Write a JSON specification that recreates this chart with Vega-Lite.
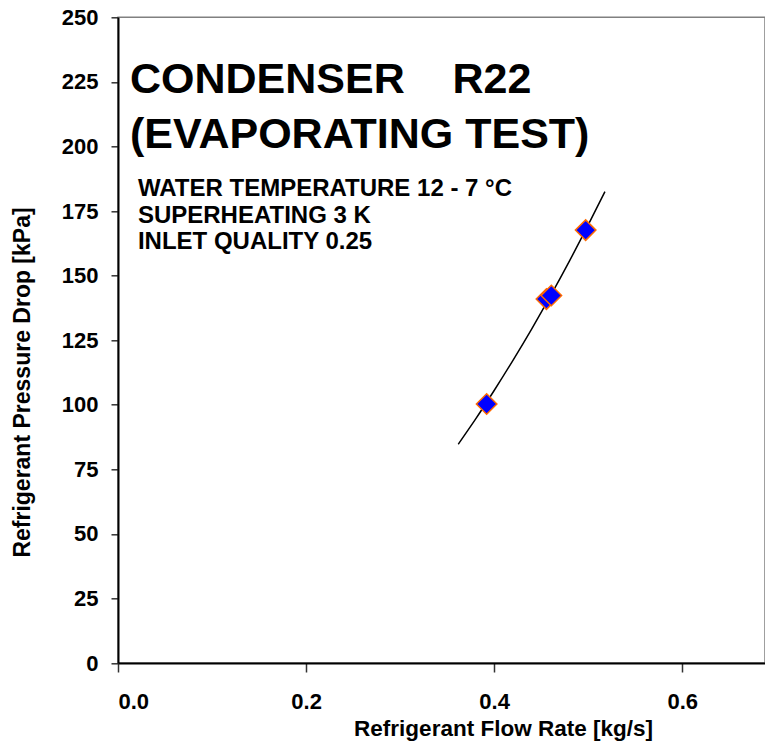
{
  "$schema": "https://vega.github.io/schema/vega-lite/v6.json",
  "autosize": "none",
  "width": 647,
  "height": 645.7,
  "padding": {"left": 118, "top": 17.3, "right": 0, "bottom": 79},
  "background": "white",
  "config": {
    "view": {"stroke": "#808080", "strokeWidth": 1.5},
    "font": "Liberation Sans"
  },
  "datasets": {
    "pts": [
      {"flow": 0.392, "dp": 100.3},
      {"flow": 0.4556, "dp": 140.9},
      {"flow": 0.4608, "dp": 142.3},
      {"flow": 0.4973, "dp": 167.6}
    ],
    "fit": [
      {"flow": 0.3618, "dp": 84.7},
      {"flow": 0.38, "dp": 94.3},
      {"flow": 0.40, "dp": 105.5},
      {"flow": 0.42, "dp": 117.2},
      {"flow": 0.44, "dp": 129.4},
      {"flow": 0.46, "dp": 142.2},
      {"flow": 0.48, "dp": 155.6},
      {"flow": 0.50, "dp": 169.6},
      {"flow": 0.5178, "dp": 182.5}
    ],
    "notes": [
      {"flow": 0.0127, "dp": 220.6, "txt": "CONDENSER\u00a0\u00a0\u00a0\u00a0R22", "kind": "big"},
      {"flow": 0.0127, "dp": 199.3, "txt": "(EVAPORATING TEST)", "kind": "big"},
      {"flow": 0.0212, "dp": 180.8, "txt": "WATER TEMPERATURE 12 - 7 °C", "kind": "small"},
      {"flow": 0.0212, "dp": 170.5, "txt": "SUPERHEATING 3 K", "kind": "small"},
      {"flow": 0.0212, "dp": 160.2, "txt": "INLET QUALITY 0.25", "kind": "small"}
    ]
  },
  "layer": [
    {
      "data": {"name": "fit"},
      "mark": {"type": "line", "color": "black", "strokeWidth": 1.5, "interpolate": "monotone"},
      "encoding": {
        "x": {
          "field": "flow", "type": "quantitative",
          "scale": {"domain": [0, 0.688], "nice": false, "zero": true},
          "axis": {
            "title": "Refrigerant Flow Rate [kg/s]",
            "values": [0, 0.2, 0.4, 0.6],
            "format": ".1f",
            "grid": false,
            "domainColor": "black",
            "domainWidth": 2,
            "tickColor": "#333333",
            "tickWidth": 1.5,
            "tickSize": 9,
            "labelPadding": 19,
            "labelFont": "Liberation Sans",
            "labelFontWeight": "bold",
            "labelFontSize": 22,
            "labelColor": "black",
            "titleFont": "Liberation Sans",
            "titleFontWeight": "bold",
            "titleFontSize": 22.5,
            "titleColor": "black",
            "titleX": 385,
            "titleY": 65,
            "titleBaseline": "middle"
          }
        },
        "y": {
          "field": "dp", "type": "quantitative",
          "scale": {"domain": [0, 250], "nice": false},
          "axis": {
            "title": "Refrigerant Pressure Drop [kPa]",
            "values": [0, 25, 50, 75, 100, 125, 150, 175, 200, 225, 250],
            "grid": false,
            "domainColor": "black",
            "domainWidth": 2,
            "tickColor": "#333333",
            "tickWidth": 1.5,
            "tickSize": 7,
            "labelPadding": 13,
            "labelFont": "Liberation Sans",
            "labelFontWeight": "bold",
            "labelFontSize": 22,
            "labelColor": "black",
            "titleFont": "Liberation Sans",
            "titleFontWeight": "bold",
            "titleFontSize": 23,
            "titleColor": "black",
            "titleX": -96,
            "titleY": 364.7,
            "titleAngle": 270,
            "titleAlign": "center",
            "titleBaseline": "middle"
          }
        }
      }
    },
    {
      "data": {"name": "pts"},
      "mark": {"type": "point", "shape": "diamond", "filled": true, "fill": "#0000ff", "stroke": "#ff6a00", "strokeWidth": 1.5, "opacity": 1, "size": 420},
      "encoding": {
        "x": {"field": "flow", "type": "quantitative"},
        "y": {"field": "dp", "type": "quantitative"}
      }
    },
    {
      "data": {"name": "notes"},
      "transform": [{"filter": "datum.kind == 'big'"}],
      "mark": {"type": "text", "align": "left", "baseline": "alphabetic", "fontSize": 43, "fontWeight": "bold", "font": "Liberation Sans", "color": "black"},
      "encoding": {
        "x": {"field": "flow", "type": "quantitative"},
        "y": {"field": "dp", "type": "quantitative"},
        "text": {"field": "txt"}
      }
    },
    {
      "data": {"name": "notes"},
      "transform": [{"filter": "datum.kind == 'small'"}],
      "mark": {"type": "text", "align": "left", "baseline": "alphabetic", "fontSize": 24, "fontWeight": "bold", "font": "Liberation Sans", "color": "black"},
      "encoding": {
        "x": {"field": "flow", "type": "quantitative"},
        "y": {"field": "dp", "type": "quantitative"},
        "text": {"field": "txt"}
      }
    }
  ]
}
